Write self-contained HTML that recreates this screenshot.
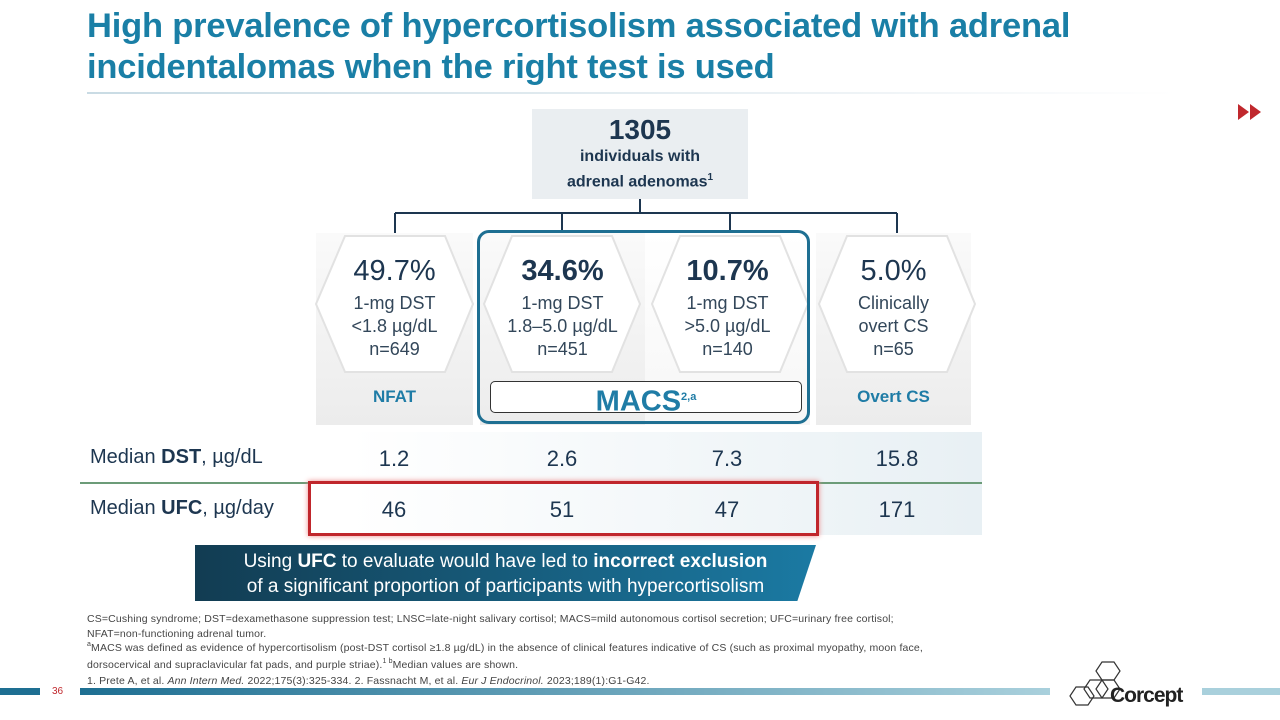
<!DOCTYPE html>
<html><head><meta charset="utf-8"><style>
body{margin:0;width:1280px;height:720px;background:#fff;position:relative;overflow:hidden;font-family:"Liberation Sans","DejaVu Sans",sans-serif;color:#1d3650}
.a{position:absolute}
h1{position:absolute;left:87px;top:6px;margin:0;font-size:34.5px;line-height:41px;color:#1a7fa6;font-weight:bold;letter-spacing:-0.2px}
.col{position:absolute;top:233px;height:192px;background:linear-gradient(#fafafa,#ececec)}
.t{position:absolute;width:100%;text-align:center}
.pc{font-size:29px;top:255px}
.sub{font-size:18px;line-height:23px;top:292px;color:#33475a}
.lab{font-size:17px;font-weight:bold;color:#1f7ca6;top:387px}
.row{position:absolute;font-size:22px;text-align:center;width:160px}
sup.s{font-size:7px;vertical-align:0;position:relative;top:-5px}
</style></head><body>
<h1>High prevalence of hypercortisolism associated with adrenal<br>incidentalomas when the right test is used</h1>
<div class="a" style="left:87px;top:92px;width:1090px;height:2px;background:linear-gradient(90deg,#c9dbe4,#eef3f6 70%,#fff)"></div>
<svg class="a" style="left:1238px;top:104px" width="26" height="16"><path d="M0 0l11 8-11 8z M12 0l11 8-11 8z" fill="#c0282d"/></svg>

<div class="a" style="left:532px;top:109px;width:216px;height:90px;background:#eaeef1;text-align:center">
<div style="font-size:28px;font-weight:bold;margin-top:5px">1305</div>
<div style="font-size:16px;font-weight:bold;line-height:21px">individuals with<br>adrenal adenomas<sup style="font-size:10px">1</sup></div></div>
<svg class="a" style="left:0;top:0" width="1280" height="250">
<g stroke="#1d3650" stroke-width="2" fill="#1d3650">
<line x1="640" y1="199" x2="640" y2="213"/><line x1="395" y1="213" x2="897" y2="213"/>
<line x1="395" y1="213" x2="395" y2="240"/><line x1="562" y1="213" x2="562" y2="240"/><line x1="730" y1="213" x2="730" y2="240"/><line x1="897" y1="213" x2="897" y2="240"/>
<path d="M390 238h10l-5 7z M557 238h10l-5 7z M725 238h10l-5 7z M892 238h10l-5 7z" stroke="none"/></g></svg>

<div class="col" style="left:316px;width:157px"></div>
<div class="col" style="left:480px;width:165px"></div>
<div class="col" style="left:645px;width:165px;background:linear-gradient(#fff,#f6f6f6)"></div>
<div class="col" style="left:816px;width:155px"></div>
<svg class="a" style="left:0;top:0" width="1280" height="430">
<g fill="#fff" stroke="#e2e2e2" stroke-width="2">
<polygon points="345,236 445,236 473,304 445,372 345,372 316,304"/>
<polygon points="512,236 612,236 640,304 612,372 512,372 484,304"/>
<polygon points="680,236 780,236 808,304 780,372 680,372 652,304"/>
<polygon points="847,236 947,236 975,304 947,372 847,372 819,304"/>
</g></svg>
<div class="a" style="left:477px;top:230px;width:333px;height:194px;border:3px solid #1e6f92;border-radius:12px;box-sizing:border-box"></div>
<div class="a" style="left:490px;top:381px;width:312px;height:32px;border:1.5px solid #333;border-radius:5px;box-sizing:border-box;background:#fff;text-align:center;font-size:29px;font-weight:bold;color:#1f7ca6;line-height:30px">MACS<sup style="font-size:11px">2,a</sup></div>

<div class="a" style="left:316px;width:157px;top:0"><div class="t pc">49.7%</div><div class="t sub">1-mg DST<br>&lt;1.8 µg/dL<br>n=649</div><div class="t lab">NFAT</div></div>
<div class="a" style="left:480px;width:165px;top:0"><div class="t pc" style="font-weight:bold">34.6%</div><div class="t sub">1-mg DST<br>1.8–5.0 µg/dL<br>n=451</div></div>
<div class="a" style="left:645px;width:165px;top:0"><div class="t pc" style="font-weight:bold">10.7%</div><div class="t sub">1-mg DST<br>&gt;5.0 µg/dL<br>n=140</div></div>
<div class="a" style="left:816px;width:155px;top:0"><div class="t pc">5.0%</div><div class="t sub">Clinically<br>overt CS<br>n=65</div><div class="t lab">Overt CS</div></div>

<div class="a" style="left:80px;top:432px;width:902px;height:50px;background:linear-gradient(90deg,#fff 30%,#e8f0f4)"></div>
<div class="a" style="left:80px;top:482px;width:902px;height:2px;background:#6c9c78"></div>
<div class="a" style="left:80px;top:484px;width:902px;height:51px;background:linear-gradient(90deg,#fff 30%,#e8f0f4)"></div>
<div class="a" style="left:90px;top:446px;font-size:20px">Median <b>DST</b>, µg/dL</div>
<div class="a" style="left:90px;top:497px;font-size:20px">Median <b>UFC</b>, µg/day</div>
<div class="row" style="left:314px;top:446px">1.2</div><div class="row" style="left:482px;top:446px">2.6</div><div class="row" style="left:647px;top:446px">7.3</div><div class="row" style="left:817px;top:446px">15.8</div>
<div class="row" style="left:314px;top:497px">46</div><div class="row" style="left:482px;top:497px">51</div><div class="row" style="left:647px;top:497px">47</div><div class="row" style="left:817px;top:497px">171</div>
<div class="a" style="left:308px;top:481px;width:511px;height:55px;border:3px solid #c0262c;box-sizing:border-box;box-shadow:0 0 5px #e88"></div>

<div class="a" style="left:195px;top:545px;width:621px;height:56px;background:linear-gradient(90deg,#123c52,#1b7aa3);clip-path:polygon(0 0,100% 0,97% 100%,0 100%);color:#fff;font-size:19px;text-align:center;line-height:25px;padding-top:4px;box-sizing:border-box">Using <b>UFC</b> to evaluate would have led to <b>incorrect exclusion</b><br>of a significant proportion of participants with hypercortisolism</div>

<div class="a" style="left:87px;top:612px;font-size:10.5px;line-height:14.5px;color:#444;width:1050px;letter-spacing:0.15px">CS=Cushing syndrome; DST=dexamethasone suppression test; LNSC=late-night salivary cortisol; MACS=mild autonomous cortisol secretion; UFC=urinary free cortisol;<br>NFAT=non-functioning adrenal tumor.<br><sup class="s">a</sup>MACS was defined as evidence of hypercortisolism (post-DST cortisol ≥1.8 µg/dL) in the absence of clinical features indicative of CS (such as proximal myopathy, moon face,<br>dorsocervical and supraclavicular fat pads, and purple striae).<sup class="s">1 b</sup>Median values are shown.<br>1. Prete A, et al. <i>Ann Intern Med.</i> 2022;175(3):325-334. 2. Fassnacht M, et al. <i>Eur J Endocrinol.</i> 2023;189(1):G1-G42.</div>
<div class="a" style="left:0;top:688px;width:40px;height:7px;background:#1e6f92"></div>
<div class="a" style="left:52px;top:686px;font-size:10px;color:#c0282d">36</div>
<div class="a" style="left:80px;top:688px;width:970px;height:7px;background:linear-gradient(90deg,#1e6f92,#a9d0dc)"></div>
<div class="a" style="left:1202px;top:688px;width:78px;height:7px;background:#a9d0dc"></div>
<svg class="a" style="left:1068px;top:660px" width="60" height="50"><g fill="none" stroke="#333" stroke-width="1.2"><polygon points="28,11 34,2 46,2 52,11 46,20 34,20"/><polygon points="16,29 22,20 34,20 40,29 34,38 22,38"/><polygon points="2,36 8,27 20,27 26,36 20,45 8,45"/><polygon points="28,29 34,20 46,20 52,29 46,38 34,38"/></g></svg>
<div class="a" style="left:1110px;top:684px;font-size:21px;font-weight:bold;color:#222;letter-spacing:-1px">Corcept</div>
</body></html>
